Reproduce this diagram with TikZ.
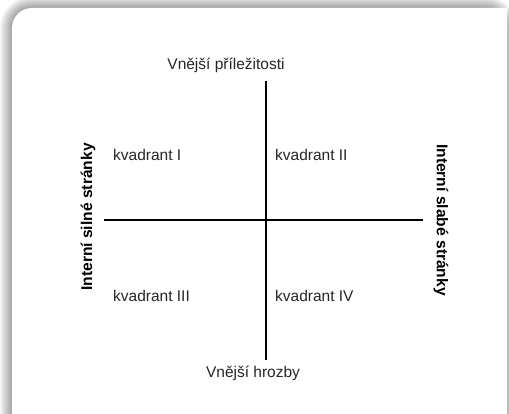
\documentclass[tikz,border=0pt]{standalone}
\usepackage{fontspec}
\setmainfont{Liberation Sans}
\begin{document}
\begin{tikzpicture}[x=1pt,y=-1pt,
  lbl/.style={font=\fontsize{15.5}{17}\selectfont, text=black!85, inner sep=0pt},
  side/.style={font=\fontsize{15.6}{17}\selectfont\bfseries, text=black, inner sep=0pt},
  axis/.style={line width=2.5pt, black}]
\useasboundingbox (0,0) rectangle (509,414);
\begin{scope}
\clip (0,0) rectangle (509,414);
\fill[white] (0,0) rectangle (509,414);
\foreach \k in {1,...,12}{
  \pgfmathsetmacro{\rr}{20+\k}
  \fill[black,opacity=0.03,rounded corners=\rr pt] (12-\k,8-\k) rectangle (505+\k,440);
}
\fill[white] (12,440) [rounded corners=20pt] -- (12,8) [sharp corners] -- (507,8) -- (507,440) -- cycle;
\end{scope}
\coordinate (L) at (104,220);
\coordinate (R) at (423,220);
\coordinate (T) at (266,81);
\coordinate (B) at (266,360);
\draw[axis] (L) -- (R);
\draw[axis] (T) -- (B);
\node[lbl] (top) at (226,65) {Vnější příležitosti};
\node[lbl] (bot) at (253,373) {Vnější hrozby};
\node[lbl,anchor=west] (q1) at (113,155) {kvadrant I};
\node[lbl,anchor=west] (q2) at (275,155) {kvadrant II};
\node[lbl,anchor=west] (q3) at (113,296) {kvadrant III};
\node[lbl,anchor=west] (q4) at (275,296) {kvadrant IV};
\node[side,rotate=90] (left) at (88,217) {Interní silné stránky};
\node[side,rotate=-90] (right) at (441,220) {Interní slabé stránky};
\end{tikzpicture}
\end{document}
